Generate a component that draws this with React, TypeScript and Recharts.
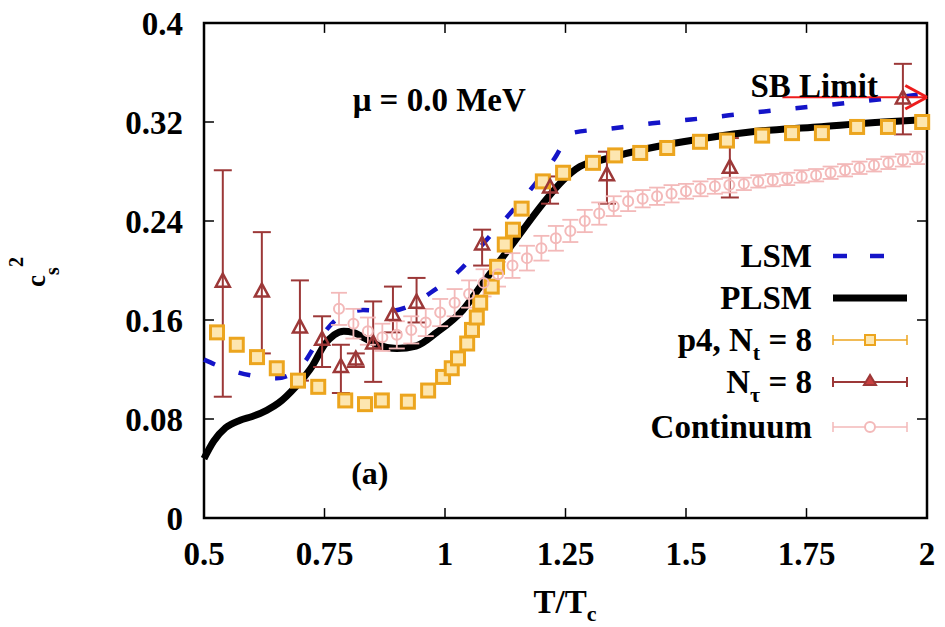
import React from "react";
import {
  ComposedChart,
  Line,
  Scatter,
  XAxis,
  YAxis,
  ErrorBar,
  ReferenceLine,
  ReferenceArea,
  ReferenceDot,
} from "recharts";

const FONT = '"Liberation Serif", "Times New Roman", serif';

const xTicks = [0.5, 0.75, 1, 1.25, 1.5, 1.75, 2];
const yTicks = [0, 0.08, 0.16, 0.24, 0.32, 0.4];

// LSM (blue dashed)
const lsmT = [0.5, 0.55, 0.6, 0.65, 0.7, 0.74, 0.78, 0.83, 0.88, 0.93, 0.97, 1.03, 1.08, 1.135, 1.183, 1.228, 1.262, 1.35, 1.43, 1.51, 1.65, 1.8, 1.98, 2.0];
const lsmCs2 = [0.128, 0.12, 0.115, 0.113, 0.122, 0.145, 0.162, 0.168, 0.167, 0.172, 0.182, 0.2, 0.222, 0.246, 0.268, 0.291, 0.311, 0.315, 0.319, 0.322, 0.328, 0.334, 0.342, 0.343];

// PLSM (thick black)
const plsmT = [0.5, 0.52, 0.545, 0.575, 0.6, 0.63, 0.655, 0.69, 0.725, 0.75, 0.77, 0.79, 0.81, 0.83, 0.86, 0.9, 0.94, 0.983, 1.037, 1.079, 1.12, 1.162, 1.203, 1.245, 1.28, 1.322, 1.425, 1.494, 1.633, 1.772, 1.909, 2.0];
const plsmCs2 = [0.048, 0.062, 0.073, 0.079, 0.082, 0.087, 0.093, 0.106, 0.123, 0.14, 0.148, 0.151, 0.15, 0.146, 0.14, 0.137, 0.139, 0.15, 0.168, 0.19, 0.211, 0.233, 0.254, 0.273, 0.284, 0.289, 0.299, 0.304, 0.312, 0.316, 0.32, 0.322];

// p4, Nt = 8 (orange squares)
const p4T = [0.527, 0.568, 0.61, 0.651, 0.695, 0.737, 0.793, 0.834, 0.869, 0.923, 0.965, 0.996, 1.014, 1.027, 1.046, 1.056, 1.066, 1.073, 1.097, 1.108, 1.124, 1.141, 1.159, 1.203, 1.245, 1.307, 1.353, 1.405, 1.461, 1.529, 1.585, 1.658, 1.72, 1.782, 1.855, 1.919, 1.99];
const p4Cs2 = [0.15, 0.14, 0.13, 0.121, 0.111, 0.106, 0.095, 0.092, 0.095, 0.094, 0.103, 0.114, 0.121, 0.129, 0.141, 0.152, 0.162, 0.174, 0.187, 0.203, 0.221, 0.233, 0.25, 0.272, 0.279, 0.287, 0.293, 0.295, 0.299, 0.304, 0.305, 0.309, 0.311, 0.311, 0.316, 0.316, 0.32];

// N_tau = 8 (brown triangles, asymmetric errors)
const ntauT = [0.539, 0.62, 0.699, 0.745, 0.784, 0.815, 0.851, 0.892, 0.941, 1.077, 1.218, 1.336, 1.591, 1.95];
const ntauCs2 = [0.191, 0.183, 0.154, 0.144, 0.122, 0.128, 0.141, 0.164, 0.174, 0.221, 0.267, 0.277, 0.283, 0.339];
const ntauHigh = [0.281, 0.231, 0.192, 0.163, 0.14, 0.133, 0.175, 0.187, 0.194, 0.233, 0.276, 0.296, 0.307, 0.367];
const ntauLow = [0.098, 0.133, 0.111, 0.122, 0.101, 0.122, 0.11, 0.15, 0.158, 0.204, 0.254, 0.254, 0.259, 0.31];

// Continuum (pink circles)
const contT = [0.78, 0.81, 0.84, 0.87, 0.9, 0.93, 0.96, 0.99, 1.02, 1.05, 1.08, 1.11, 1.14, 1.17, 1.2, 1.23, 1.26, 1.29, 1.32, 1.35, 1.38, 1.41, 1.44, 1.47, 1.5, 1.53, 1.56, 1.59, 1.62, 1.65, 1.68, 1.71, 1.74, 1.77, 1.8, 1.83, 1.86, 1.89, 1.92, 1.95, 1.98];
const contCs2 = [0.169, 0.157, 0.151, 0.146, 0.148, 0.152, 0.158, 0.166, 0.174, 0.181, 0.19, 0.197, 0.204, 0.21, 0.218, 0.226, 0.232, 0.24, 0.246, 0.252, 0.256, 0.258, 0.26, 0.262, 0.264, 0.266, 0.268, 0.269, 0.27, 0.272, 0.273, 0.274, 0.276, 0.277, 0.279, 0.281, 0.283, 0.285, 0.287, 0.289, 0.291];
const contErr = [0.013, 0.012, 0.011, 0.011, 0.011, 0.011, 0.011, 0.011, 0.011, 0.011, 0.011, 0.01, 0.01, 0.01, 0.01, 0.01, 0.009, 0.009, 0.009, 0.008, 0.008, 0.007, 0.007, 0.007, 0.006, 0.006, 0.006, 0.006, 0.005, 0.005, 0.005, 0.005, 0.005, 0.005, 0.005, 0.005, 0.005, 0.005, 0.005, 0.005, 0.005];

const sbLimit = 0.34;

const BLUE = "#1414c8";
const ORANGE = "#eca51e";
const BROWN = "#9c3838";
const PINK = "#f3b9b9";
const RED = "#ee1c1c";

const lsmData = lsmT.map((x, i) => ({ x, y: lsmCs2[i] }));
const plsmData = plsmT.map((x, i) => ({ x, y: plsmCs2[i] }));
const p4Data = p4T.map((x, i) => ({ x, y: p4Cs2[i], err: 0.003 }));
const ntauData = ntauT.map((x, i) => ({
  x,
  y: ntauCs2[i],
  err: [ntauCs2[i] - ntauLow[i], ntauHigh[i] - ntauCs2[i]],
}));
const contData = contT.map((x, i) => ({ x, y: contCs2[i], err: contErr[i] }));

const Square = (p: any) => (
  <rect x={p.cx - 6.5} y={p.cy - 6.5} width={13} height={13} fill="#fde6b0" stroke={ORANGE} strokeWidth={3} />
);
const Triangle = (p: any) => (
  <polygon
    points={`${p.cx},${p.cy - 8} ${p.cx - 7},${p.cy + 5} ${p.cx + 7},${p.cy + 5}`}
    fill="none"
    stroke={BROWN}
    strokeWidth={2.5}
  />
);
const Circle = (p: any) => <circle cx={p.cx} cy={p.cy} r={5} fill="none" stroke={PINK} strokeWidth={2} />;

const tickStyle = { fontSize: 33, fontWeight: "bold", fill: "#000", fontFamily: FONT };
const noteStyle = { fontSize: 33, fontWeight: "bold", fill: "#000", fontFamily: FONT };

const legendRows = [
  { key: "lsm", cy: 256 },
  { key: "plsm", cy: 298 },
  { key: "p4", cy: 340 },
  { key: "ntau", cy: 382 },
  { key: "cont", cy: 427 },
];

function LegendText({ k }: { k: string }) {
  const sub = { fontSize: 22, verticalAlign: "-9px", lineHeight: 0 } as React.CSSProperties;
  if (k === "lsm") return <>LSM</>;
  if (k === "plsm") return <>PLSM</>;
  if (k === "p4")
    return (
      <>
        p4, N<span style={sub}>t</span> = 8
      </>
    );
  if (k === "ntau")
    return (
      <>
        N<span style={sub}>τ</span> = 8
      </>
    );
  return <>Continuum</>;
}

export default function App() {
  return (
    <div style={{ position: "absolute", left: 0, top: 0, width: 945, height: 627, background: "#fff" }}>
      <ComposedChart width={945} height={627} margin={{ top: 23, right: 18, left: 0, bottom: 49 }}>
        <XAxis
          type="number"
          dataKey="x"
          domain={[0.5, 2]}
          ticks={xTicks}
          interval={0}
          tickLine={false}
          axisLine={false}
          tick={tickStyle}
          tickMargin={18}
          height={60}
          tickFormatter={(v: number) => String(v)}
          label={{
            content: () => (
              <text x={565} y={613} textAnchor="middle" fontFamily={FONT} fontWeight="bold" fontSize={33} fill="#000">
                T/T
                <tspan fontSize={22} dy={8}>
                  c
                </tspan>
              </text>
            ),
          }}
        />
        <YAxis
          type="number"
          dataKey="y"
          domain={[0, 0.4]}
          ticks={yTicks}
          interval={0}
          tickLine={false}
          axisLine={false}
          tick={tickStyle}
          tickMargin={15}
          width={204}
          tickFormatter={(v: number) => String(v)}
          label={{
            content: () => (
              <text
                transform="translate(45,272) rotate(-90)"
                textAnchor="middle"
                style={{ fontSize: 27, fontWeight: "bold", fill: "#000", fontFamily: FONT }}
              >
                c
                <tspan fontSize={20} dy={14}>
                  s
                </tspan>
                <tspan fontSize={20} dy={-36}>
                  2
                </tspan>
              </text>
            ),
          }}
        />

        <ReferenceArea x1={0.5} x2={2} y1={0} y2={0.4} fill="none" stroke="#000" strokeWidth={2.5} />
        {xTicks.slice(1, -1).map((t) => (
          <ReferenceLine key={"xb" + t} segment={[{ x: t, y: 0 }, { x: t, y: 0.008 }]} stroke="#000" strokeWidth={1.5} />
        ))}
        {xTicks.slice(1, -1).map((t) => (
          <ReferenceLine key={"xt" + t} segment={[{ x: t, y: 0.4 }, { x: t, y: 0.392 }]} stroke="#000" strokeWidth={1.5} />
        ))}
        {yTicks.slice(1, -1).map((t) => (
          <ReferenceLine key={"yl" + t} segment={[{ x: 0.5, y: t }, { x: 0.5207, y: t }]} stroke="#000" strokeWidth={1.5} />
        ))}
        {yTicks.slice(1, -1).map((t) => (
          <ReferenceLine key={"yr" + t} segment={[{ x: 2, y: t }, { x: 1.9793, y: t }]} stroke="#000" strokeWidth={1.5} />
        ))}

        <Line data={lsmData} dataKey="y" type="monotone" stroke={BLUE} strokeWidth={4.5} strokeDasharray="12 25" dot={false} activeDot={false} isAnimationActive={false} />
        <Line data={plsmData} dataKey="y" type="monotone" stroke="#000" strokeWidth={7} dot={false} activeDot={false} isAnimationActive={false} />
        <Scatter data={p4Data} dataKey="y" shape={Square} isAnimationActive={false}>
          <ErrorBar dataKey="err" direction="y" width={7} stroke="#7a5a10" strokeWidth={1.2} />
        </Scatter>
        <Scatter data={ntauData} dataKey="y" shape={Triangle} isAnimationActive={false}>
          <ErrorBar dataKey="err" direction="y" width={9} stroke={BROWN} strokeWidth={2} />
        </Scatter>
        <Scatter data={contData} dataKey="y" shape={Circle} isAnimationActive={false}>
          <ErrorBar dataKey="err" direction="y" width={8} stroke={PINK} strokeWidth={1.8} />
        </Scatter>

        <ReferenceLine segment={[{ x: 1.7, y: sbLimit }, { x: 2, y: sbLimit }]} stroke={RED} strokeWidth={2} />
        <ReferenceLine segment={[{ x: 2, y: sbLimit }, { x: 1.955, y: sbLimit + 0.0095 }]} stroke={RED} strokeWidth={3} />
        <ReferenceLine segment={[{ x: 2, y: sbLimit }, { x: 1.955, y: sbLimit - 0.0095 }]} stroke={RED} strokeWidth={3} />

        <ReferenceDot x={0.988} y={0.338} r={0} fill="none" stroke="none" label={{ value: "μ = 0.0 MeV", position: "center", ...noteStyle }} />
        <ReferenceDot x={1.766} y={0.35} r={0} fill="none" stroke="none" label={{ value: "SB Limit", position: "center", ...noteStyle }} />
        <ReferenceDot x={0.844} y={0.037} r={0} fill="none" stroke="none" label={{ value: "(a)", position: "center", ...noteStyle, fontSize: 32 }} />
      </ComposedChart>

      {legendRows.map((r) => (
        <div
          key={r.key}
          style={{
            position: "absolute",
            left: 500,
            top: r.cy - 20,
            width: 312,
            textAlign: "right",
            fontFamily: FONT,
            fontWeight: "bold",
            fontSize: 33,
            lineHeight: "40px",
            color: "#000",
            whiteSpace: "nowrap",
          }}
        >
          <LegendText k={r.key} />
        </div>
      ))}
      <svg style={{ position: "absolute", left: 820, top: 230 }} width={100} height={220}>
        <line x1={13} x2={87} y1={26} y2={26} stroke={BLUE} strokeWidth={4.5} strokeDasharray="14 23" />
        <line x1={13} x2={87} y1={68} y2={68} stroke="#000" strokeWidth={7} />
        <g stroke={ORANGE} strokeWidth={1.5}>
          <line x1={13} x2={87} y1={110} y2={110} />
          <line x1={13} x2={13} y1={105} y2={115} />
          <line x1={87} x2={87} y1={105} y2={115} />
        </g>
        <rect x={45} y={105} width={10} height={10} fill="#fde6b0" stroke={ORANGE} strokeWidth={2} />
        <g stroke={BROWN} strokeWidth={2}>
          <line x1={13} x2={87} y1={152} y2={152} />
          <line x1={13} x2={13} y1={147} y2={157} />
          <line x1={87} x2={87} y1={147} y2={157} />
        </g>
        <polygon points="50,145 44,155 56,155" fill="#c84040" stroke={BROWN} strokeWidth={2} />
        <g stroke={PINK} strokeWidth={1.5}>
          <line x1={13} x2={87} y1={197} y2={197} />
          <line x1={13} x2={13} y1={192} y2={202} />
          <line x1={87} x2={87} y1={192} y2={202} />
        </g>
        <circle cx={50} cy={197} r={5} fill="#fff" stroke={PINK} strokeWidth={2} />
      </svg>
    </div>
  );
}
